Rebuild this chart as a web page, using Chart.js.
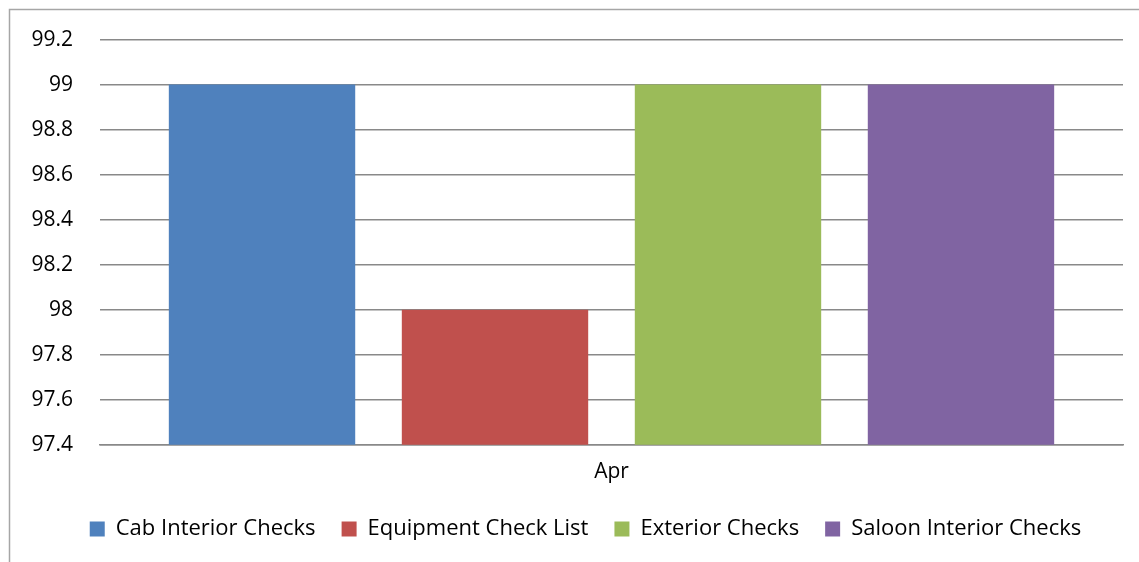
<!DOCTYPE html>
<html>
<head>
<meta charset="utf-8">
<script src="https://cdn.jsdelivr.net/npm/chart.js@4"></script>
<style>
  html, body { margin: 0; padding: 0; background: #fff; }
  #wrap { position: relative; width: 1139px; height: 562px; }
</style>
</head>
<body>
<div id="wrap"><canvas id="chart" width="1139" height="562"></canvas></div>
<script>
// Data
const categories = ['Apr'];
const seriesNames = ['Cab Interior Checks', 'Equipment Check List', 'Exterior Checks', 'Saloon Interior Checks'];
const seriesValues = [[99], [98], [99], [99]];
const seriesColors = ['#4F81BD', '#C0504D', '#9BBB59', '#8064A2'];
const yMin = 97.4, yMax = 99.2, yStep = 0.2;

// outer frame (only top and left edges are visible in the picture)
const framePlugin = {
  id: 'frame',
  beforeDraw(chart) {
    const ctx = chart.ctx;
    ctx.save();
    ctx.strokeStyle = '#a6a6a6';
    ctx.lineWidth = 1.5;
    ctx.beginPath();
    ctx.moveTo(9.5, chart.height);
    ctx.lineTo(9.5, 9.5);
    ctx.lineTo(chart.width, 9.5);
    ctx.stroke();
    ctx.restore();
  }
};

// legend is centred under the plot area, not the whole canvas
const legendShift = {
  id: 'legendShift',
  afterLayout(chart) {
    const lg = chart.legend;
    if (!lg) return;
    lg.left += 24;
    lg.right += 24;
  }
};

Chart.defaults.font.family = '"Open Sans", Lato, sans-serif';
Chart.defaults.color = '#000';

new Chart(document.getElementById('chart'), {
  type: 'bar',
  data: {
    labels: categories,
    datasets: seriesNames.map((name, i) => ({
      label: name,
      data: seriesValues[i],
      backgroundColor: seriesColors[i],
      borderWidth: 0,
      categoryPercentage: 0.911,
      barPercentage: 0.8,
    })),
  },
  options: {
    responsive: false,
    animation: false,
    layout: { padding: { top: 28, right: 16, bottom: 12, left: 0 } },
    plugins: {
      tooltip: { enabled: false },
      legend: {
        display: true,
        position: 'bottom',
        labels: {
          boxWidth: 15,
          boxHeight: 15,
          padding: 26,
          font: { size: 22 },
          color: '#000',
        },
      },
    },
    scales: {
      x: {
        grid: { display: false },
        border: { display: true, color: '#898989', width: 1.5 },
        ticks: { font: { size: 21 }, color: '#000', padding: 7 },
      },
      y: {
        min: yMin,
        max: yMax,
        afterFit(axis) { axis.width = 100; },
        grid: { color: '#898989', lineWidth: 1.5, drawTicks: false },
        border: { display: false },
        ticks: {
          stepSize: yStep,
          padding: 27,
          font: { size: 21 },
          color: '#000',
          callback: v => Math.round(v * 10) / 10,
        },
      },
    },
  },
  plugins: [framePlugin, legendShift],
});
</script>
</body>
</html>
